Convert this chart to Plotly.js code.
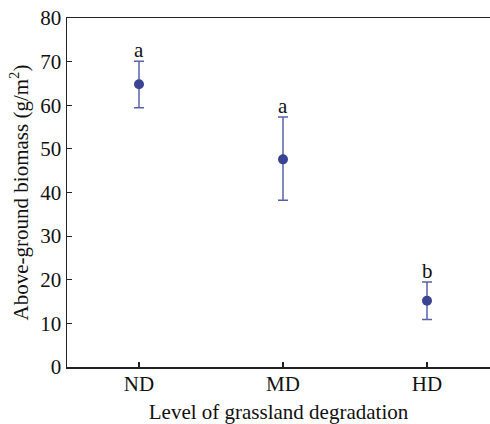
<!DOCTYPE html>
<html>
<head>
<meta charset="utf-8">
<script src="https://cdn.plot.ly/plotly-3.0.1.min.js"></script>
<style>html,body{margin:0;padding:0;background:#fff;}#chart{width:490px;height:424px;}</style>
</head>
<body>
<div id="chart"></div>
<script>
const categories = ["ND", "MD", "HD"];
const means = [64.8, 47.6, 15.2];
const errPlus = [5.3, 9.7, 4.3];
const errMinus = [5.4, 9.4, 4.3];
const letters = ["a", "a", "b"];
const yTicks = [0, 10, 20, 30, 40, 50, 60, 70, 80];

const xIdx = categories.map((c, i) => i);
const font = "Liberation Serif, Times New Roman, serif";

const trace = {
  x: xIdx,
  y: means,
  type: "scatter",
  mode: "markers",
  marker: {color: "#3b4393", size: 10},
  error_y: {type: "data", symmetric: false, array: errPlus, arrayminus: errMinus,
            color: "#5a61a8", thickness: 1.5, width: 5},
  hoverinfo: "skip",
  showlegend: false
};

const annotations = letters.map((t, i) => ({
  x: xIdx[i], y: means[i] + errPlus[i], xref: "x", yref: "y",
  text: t, showarrow: false, yanchor: "bottom", yshift: -3,
  font: {family: font, size: 21, color: "#111"}
}));

const layout = {
  width: 490, height: 424,
  margin: {l: 67, r: 0, t: 18, b: 57},
  paper_bgcolor: "#fff", plot_bgcolor: "#fff",
  font: {family: font, size: 21, color: "#111"},
  xaxis: {
    range: [-0.5, 2.4375],
    tickvals: xIdx, ticktext: categories,
    showgrid: false, zeroline: false,
    showline: true, linecolor: "#222", linewidth: 1.5, mirror: true,
    ticks: "inside", ticklen: 5, tickwidth: 1.2, tickcolor: "#222",
    ticklabelstandoff: -3,
    tickfont: {family: font, size: 21},
    title: {text: "Level of grassland degradation", font: {family: font, size: 21}, standoff: 9}
  },
  yaxis: {
    range: [0, 80],
    tickvals: yTicks,
    showgrid: false, zeroline: false,
    showline: true, linecolor: "#222", linewidth: 1.5,
    ticks: "inside", ticklen: 5, tickwidth: 1.2, tickcolor: "#222",
    tickfont: {family: font, size: 21},
    title: {text: "Above-ground biomass (g/m<sup>2</sup>)", font: {family: font, size: 21}, standoff: 6}
  },
  annotations: annotations
};

Plotly.newPlot("chart", [trace], layout, {displayModeBar: false, staticPlot: true});
</script>
</body>
</html>
